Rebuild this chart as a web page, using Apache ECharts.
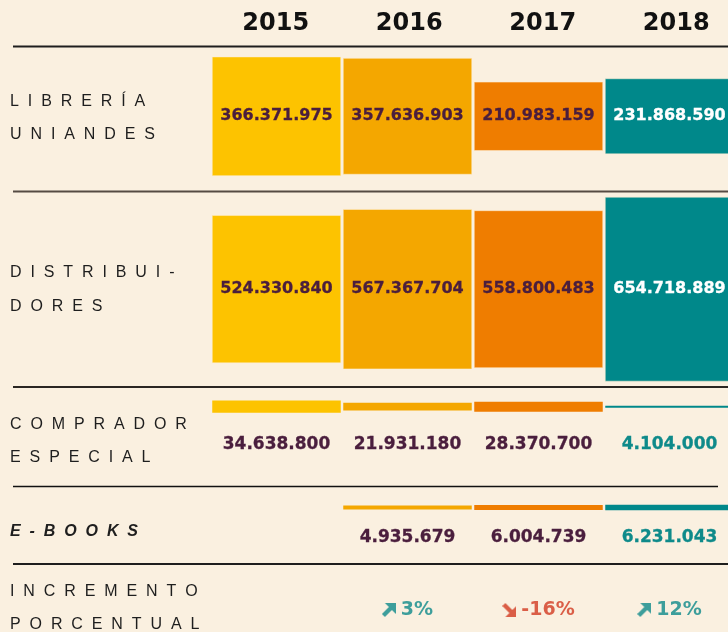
<!DOCTYPE html>
<html>
<head>
<meta charset="utf-8">
<script src="https://cdn.jsdelivr.net/npm/echarts@6/dist/echarts.min.js"></script>
<style>
  html, body { margin: 0; background: #faf0e0; }
  #chart { width: 728px; height: 632px; }
</style>
</head>
<body>
<div id="chart"></div>
<script>
// datos
const years = ['2015', '2016', '2017', '2018'];
const libreria = [366371975, 357636903, 210983159, 231868590];
const distribuidores = [524330840, 567367704, 558800483, 654718889];
const comprador = [34638800, 21931180, 28370700, 4104000];
const ebooks = [null, 4935679, 6004739, 6231043];
const incremento = [null, 3, -16, 12];
const rowLabels = [
    ['LIBRERÍA', 'UNIANDES'],
    ['DISTRIBUI-', 'DORES'],
    ['COMPRADOR', 'ESPECIAL'],
    ['E-BOOKS'],
    ['INCREMENTO', 'PORCENTUAL']
];

const colors = ['#fdc300', '#f4a700', '#ef7d00', '#00888a'];
const purple = '#4a1e3d';
const teal = '#0e8a8a';
const red = '#d23a20';

// estilo de cada fila (centro vertical, px por unidad, desplazamiento de la etiqueta)
const rows = [
    { values: libreria, center: 116.3, ratio: 0.324e-6, labelDy: 0, fontSize: 16, lastColor: '#ffffff' },
    { values: distribuidores, center: 289.2, ratio: 0.281e-6, labelDy: 0, fontSize: 16, lastColor: '#ffffff' },
    { values: comprador, center: 406.7, ratio: 0.355e-6, labelDy: 38.3, fontSize: 17, lastColor: teal },
    { values: ebooks, center: 507.5, ratio: 0.85e-6, labelDy: 30.5, fontSize: 17, lastColor: teal }
];
const labelY = [[102, 135], [273, 307], [425, 458], [532], [592, 625]];

const fmt = v => String(v).replace(/\B(?=(\d{3})+(?!\d))/g, '.');
const spread = s => s.split('').join('  ');

function arrowCanvas(up, color) {
    const c = document.createElement('canvas');
    c.width = 14; c.height = 14;
    const g = c.getContext('2d');
    g.fillStyle = color;
    g.strokeStyle = color;
    g.lineWidth = 4.2;
    g.beginPath();
    if (up) {
        g.moveTo(3, 0); g.lineTo(14, 0); g.lineTo(14, 11);
    } else {
        g.moveTo(3, 14); g.lineTo(14, 14); g.lineTo(14, 3);
    }
    g.closePath();
    g.fill();
    g.beginPath();
    if (up) { g.moveTo(1.5, 12.5); g.lineTo(11, 3); }
    else { g.moveTo(1.5, 1.5); g.lineTo(11, 11); }
    g.stroke();
    return c;
}
const upArrow = arrowCanvas(true, teal);
const downArrow = arrowCanvas(false, red);

const chart = echarts.init(document.getElementById('chart'));

const grid = [], xAxis = [], yAxis = [], series = [];

// cabecera con los años
grid.push({ left: 209, width: 534, top: 46, height: 1, outerBoundsMode: 'none' });
xAxis.push({
    gridIndex: 0, type: 'category', data: years, position: 'top',
    axisLine: { show: false }, axisTick: { show: false },
    axisLabel: {
        margin: 22, verticalAlign: 'middle',
        fontFamily: 'DejaVu Sans', fontWeight: 'bold', fontSize: 24, color: '#111'
    }
});
yAxis.push({ gridIndex: 0, type: 'value', show: false });

rows.forEach((row, r) => {
    const gi = r + 1;
    const maxV = Math.max(...row.values.filter(v => v != null));
    grid.push({
        left: 211, width: 524, top: row.center - maxV * row.ratio, height: 2 * maxV * row.ratio,
        outerBoundsMode: 'none'
    });
    xAxis.push({ gridIndex: gi, type: 'category', data: years, show: false });
    yAxis.push({ gridIndex: gi, type: 'value', min: -maxV, max: maxV, show: false });
    series.push({
        type: 'custom',
        xAxisIndex: gi,
        yAxisIndex: gi,
        data: row.values.map((v, i) => [i, v]),
        renderItem: (params, api) => {
            const idx = api.value(0);
            const v = api.value(1);
            if (isNaN(v)) return null;
            const top = api.coord([idx, v / 2]);
            const bot = api.coord([idx, -v / 2]);
            const w = api.size([1, 0])[0] - 2.5;
            let h = bot[1] - top[1];
            const mid = (top[1] + bot[1]) / 2;
            if (h < 2) h = 2;
            const fill = idx === 3 ? row.lastColor : purple;
            return {
                type: 'group',
                children: [
                    {
                        type: 'rect',
                        shape: { x: top[0] - w / 2, y: mid - h / 2, width: w, height: h },
                        style: { fill: colors[idx], stroke: r < 2 ? 'rgba(255,240,210,0.5)' : null, lineWidth: 1 }
                    },
                    {
                        type: 'text',
                        style: {
                            text: fmt(v), x: top[0], y: mid + row.labelDy,
                            align: 'center', verticalAlign: 'middle',
                            font: 'bold ' + row.fontSize + 'px "DejaVu Sans"',
                            fill: fill, stroke: fill, lineWidth: 0.3
                        }
                    }
                ]
            };
        }
    });
});

// incremento porcentual
grid.push({ left: 211, width: 524, top: 600, height: 20, outerBoundsMode: 'none' });
xAxis.push({ gridIndex: 5, type: 'category', data: years, show: false });
yAxis.push({ gridIndex: 5, type: 'value', min: -1, max: 1, show: false });
series.push({
    type: 'scatter',
    xAxisIndex: 5,
    yAxisIndex: 5,
    symbolSize: 1,
    itemStyle: { color: 'rgba(0,0,0,0)' },
    data: incremento.map((v, i) => (v == null ? [i, '-'] : [i, 0])),
    label: {
        show: true,
        position: 'inside',
        formatter: p => {
            const v = incremento[p.dataIndex];
            if (v == null) return '';
            return v >= 0 ? '{up| }{pos|' + v + '%}' : '{down| }{neg|' + v + '%}';
        },
        rich: {
            up: { width: 14, height: 14, backgroundColor: { image: upArrow } },
            down: { width: 14, height: 14, backgroundColor: { image: downArrow } },
            pos: {
                color: teal, fontFamily: 'DejaVu Sans', fontWeight: 'bold', fontSize: 19, padding: [0, 0, 0, 5]
            },
            neg: {
                color: red, fontFamily: 'DejaVu Sans', fontWeight: 'bold', fontSize: 19, padding: [0, 0, 0, 5]
            }
        }
    }
});

// líneas separadoras y etiquetas de fila
const graphic = [
    { type: 'line', shape: { x1: 13, y1: 46.5, x2: 728, y2: 46.5 }, style: { stroke: '#1e1e1e', lineWidth: 2 } },
    { type: 'line', shape: { x1: 13, y1: 191.5, x2: 728, y2: 191.5 }, style: { stroke: '#554b43', lineWidth: 2 } },
    { type: 'line', shape: { x1: 13, y1: 387, x2: 728, y2: 387 }, style: { stroke: '#2a2622', lineWidth: 2 } },
    { type: 'line', shape: { x1: 13, y1: 486.5, x2: 718, y2: 486.5 }, style: { stroke: '#111', lineWidth: 1.5 } },
    { type: 'line', shape: { x1: 13, y1: 564, x2: 728, y2: 564 }, style: { stroke: '#1e1e1e', lineWidth: 2 } }
];
rowLabels.forEach((lines, r) => {
    lines.forEach((t, k) => {
        graphic.push({
            type: 'text',
            x: 10,
            y: labelY[r][k],
            style: {
                text: spread(t),
                verticalAlign: 'middle',
                font: r === 3 ? 'italic bold 16px "Liberation Sans"' : '16px "Liberation Sans"',
                fill: '#1e1e1e'
            }
        });
    });
});

chart.setOption({
    backgroundColor: '#faf0e0',
    animation: false,
    grid: grid,
    xAxis: xAxis,
    yAxis: yAxis,
    series: series,
    graphic: graphic
});

window.addEventListener('resize', () => chart.resize());
</script>
</body>
</html>
